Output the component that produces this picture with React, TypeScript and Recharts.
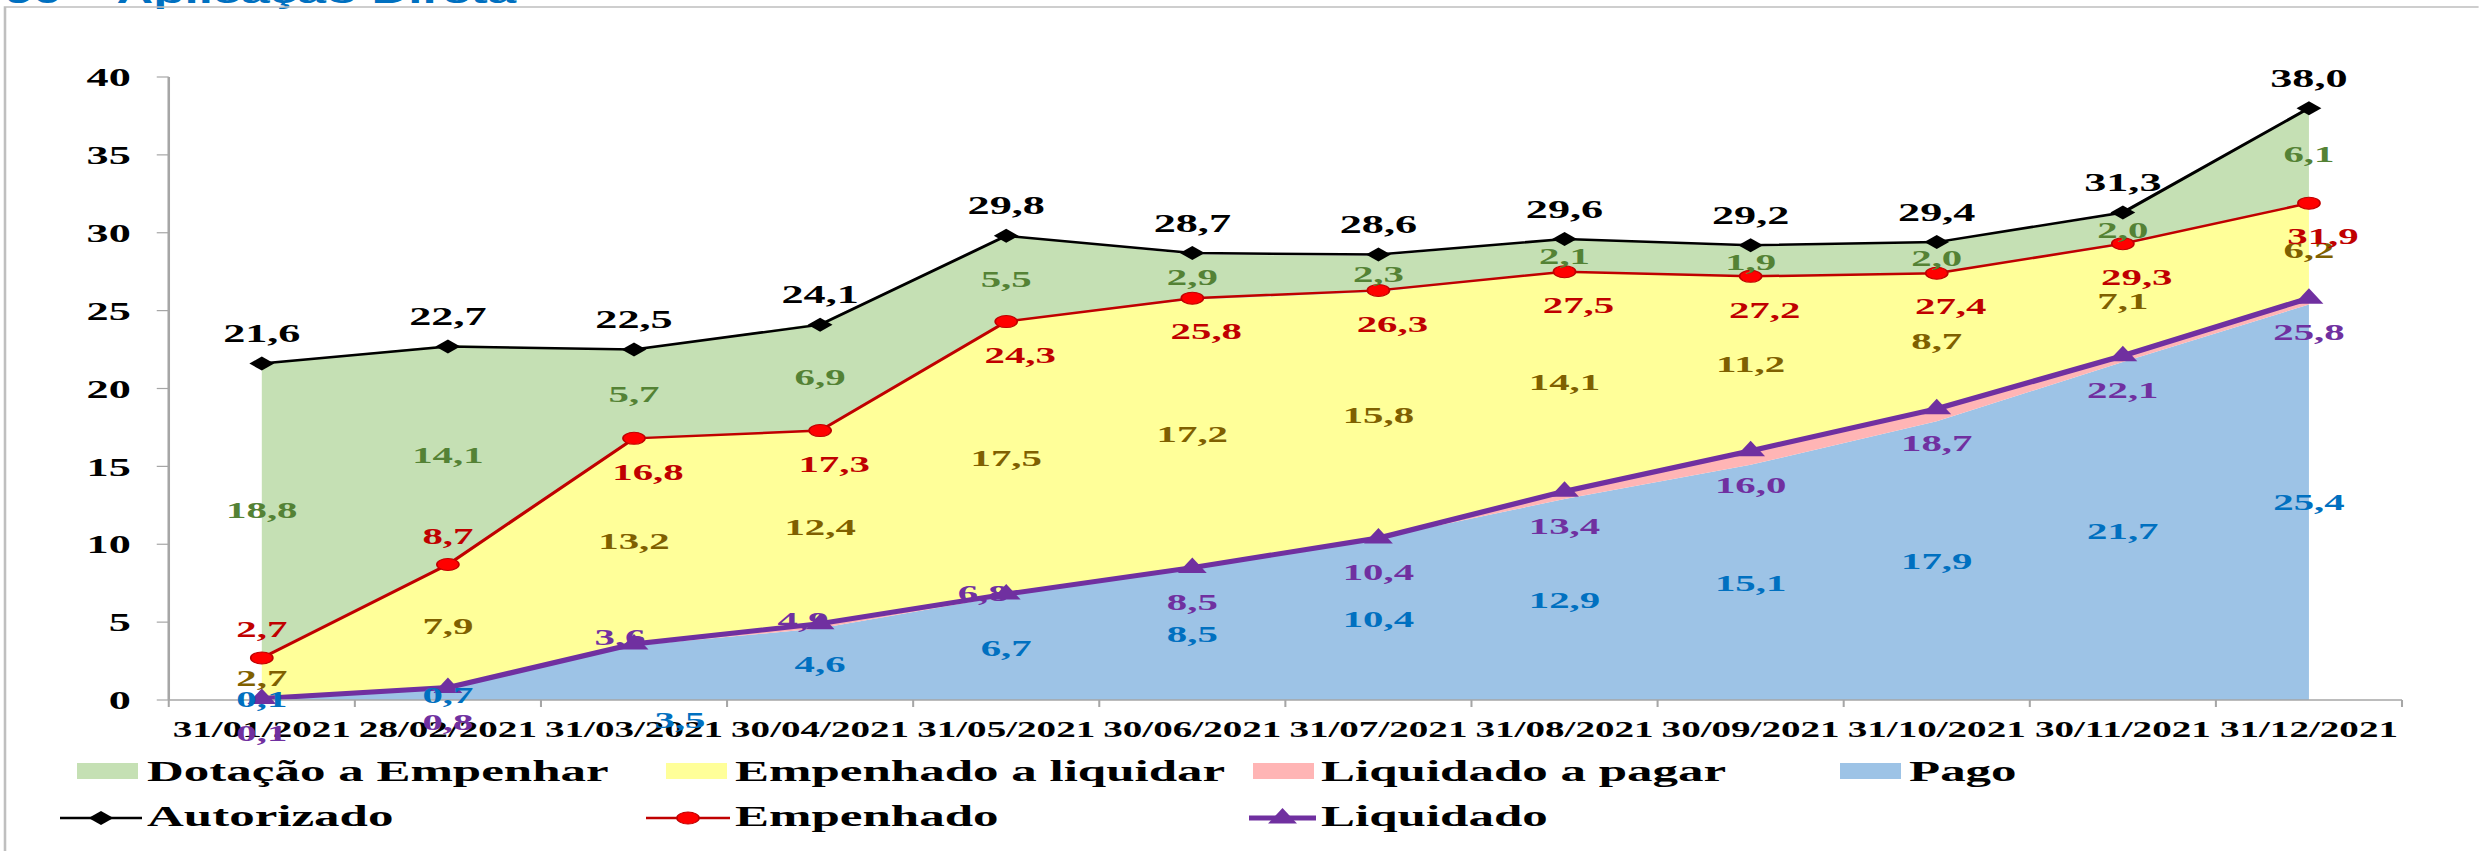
import React from 'react';
import { ComposedChart, Area, Line, XAxis, YAxis, LabelList } from 'recharts';

const categories = [
  '31/01/2021', '28/02/2021', '31/03/2021', '30/04/2021', '31/05/2021', '30/06/2021',
  '31/07/2021', '31/08/2021', '30/09/2021', '31/10/2021', '30/11/2021', '31/12/2021',
];
const autorizado = [21.6, 22.7, 22.5, 24.1, 29.8, 28.7, 28.6, 29.6, 29.2, 29.4, 31.3, 38.0];
const empenhado = [2.7, 8.7, 16.8, 17.3, 24.3, 25.8, 26.3, 27.5, 27.2, 27.4, 29.3, 31.9];
const liquidado = [0.1, 0.8, 3.6, 4.9, 6.8, 8.5, 10.4, 13.4, 16.0, 18.7, 22.1, 25.8];
const pago = [0.1, 0.7, 3.5, 4.6, 6.7, 8.5, 10.4, 12.9, 15.1, 17.9, 21.7, 25.4];
const liquidadoAPagar = [0.0, 0.1, 0.1, 0.3, 0.1, 0.0, 0.0, 0.5, 0.9, 0.8, 0.4, 0.4];
const empenhadoALiquidar = [2.7, 7.9, 13.2, 12.4, 17.5, 17.2, 15.8, 14.1, 11.2, 8.7, 7.1, 6.2];
const dotacaoAEmpenhar = [18.8, 14.1, 5.7, 6.9, 5.5, 2.9, 2.3, 2.1, 1.9, 2.0, 2.0, 6.1];
const yTicks = [0, 5, 10, 15, 20, 25, 30, 35, 40];

const data = categories.map((date, i) => ({
  date,
  pago: pago[i],
  liquidadoAPagar: liquidadoAPagar[i],
  empenhadoALiquidar: empenhadoALiquidar[i],
  dotacaoAEmpenhar: dotacaoAEmpenhar[i],
  autorizado: autorizado[i],
  empenhado: empenhado[i],
  liquidado: liquidado[i],
}));

// the original picture is stretched sideways, so draw narrow and scale on x
const S = 1.7;
const W = Math.floor(2480 / S);
const H = 851;
const TOP = 77;
const BOTTOM = 700;
const px = (pagePx: number) => pagePx / S; // page x distance -> drawing units
const PLOT_LEFT = px(168.75);
const PLOT_RIGHT = px(2402);
const HALF = (PLOT_RIGHT - PLOT_LEFT) / 24;
const K = (BOTTOM - TOP) / 40;

const SERIF = '"Liberation Serif", "Times New Roman", serif';
const AXIS = '#A6A6A6';

const C = {
  green: '#C5E0B4',
  yellow: '#FFFF99',
  pink: '#FFB5B5',
  blue: '#9DC3E6',
  greenText: '#548235',
  yellowText: '#7F6000',
  red: '#C00000',
  redDot: '#FF0000',
  purple: '#7030A0',
  blueText: '#0070C0',
};

const fmt = (v: number) => v.toFixed(1).replace('.', ',');

const pos = (p: any) => ({
  x: (p.x ?? p.viewBox?.x) as number,
  y: (p.y ?? p.viewBox?.y) as number,
});

const Txt = ({ x, y, color, size = 24, children }: any) => (
  <text
    x={x}
    y={y}
    fill={color}
    fontFamily={SERIF}
    fontWeight="bold"
    fontSize={size}
    textAnchor="middle"
    dominantBaseline="central"
  >
    {children}
  </text>
);

// label at the middle of a stacked segment
const midLabel = (color: string, special?: Record<number, [number, number]>) => (p: any) => {
  const { x, y } = pos(p);
  const v = Number(p.value);
  if (x == null || y == null || isNaN(v)) return null;
  const s = special && special[p.index];
  if (s) return <Txt x={x + s[0]} y={s[1]} color={color}>{fmt(v)}</Txt>;
  return <Txt x={x} y={y + (v * K) / 2} color={color}>{fmt(v)}</Txt>;
};

const autorizadoLabel = (p: any) => {
  const { x, y } = pos(p);
  return <Txt x={x} y={y - 30} color="#000" size={26}>{fmt(Number(p.value))}</Txt>;
};

const empenhadoLabel = (p: any) => {
  const { x, y } = pos(p);
  if (p.index < 2) return <Txt x={x} y={y - 29} color={C.red}>{fmt(Number(p.value))}</Txt>;
  return <Txt x={x + px(14)} y={y + 33} color={C.red}>{fmt(Number(p.value))}</Txt>;
};

const liqShift: Record<number, [number, number]> = { 2: [px(-14), -7], 3: [px(-17), -4], 4: [px(-23), -1] };
const liquidadoLabel = (p: any) => {
  const { x, y } = pos(p);
  const s = liqShift[p.index] || [0, 34];
  return <Txt x={x + s[0]} y={y + s[1]} color={C.purple}>{fmt(Number(p.value))}</Txt>;
};

const diamond = (cx: number, cy: number) =>
  `${cx},${cy - 7} ${cx + 7.3},${cy} ${cx},${cy + 7} ${cx - 7.3},${cy}`;
const triangle = (cx: number, cy: number) =>
  `${cx},${cy - 10} ${cx + 8.5},${cy + 5.5} ${cx - 8.5},${cy + 5.5}`;

const DiamondDot = (p: any) => <polygon key={`a${p.index}`} points={diamond(p.cx, p.cy)} fill="#000" />;
const CircleDot = (p: any) => (
  <ellipse key={`e${p.index}`} cx={p.cx} cy={p.cy} rx={6.5} ry={6} fill={C.redDot} stroke={C.red} strokeWidth={1} />
);
const TriangleDot = (p: any) => <polygon key={`l${p.index}`} points={triangle(p.cx, p.cy)} fill={C.purple} />;

const XTick = (p: any) => {
  const { x, y, index } = p;
  return (
    <g>
      <line x1={x - HALF} x2={x - HALF} y1={y} y2={y + 7} stroke={AXIS} strokeWidth={1.2} />
      {index === categories.length - 1 && (
        <line x1={x + HALF} x2={x + HALF} y1={y} y2={y + 7} stroke={AXIS} strokeWidth={1.2} />
      )}
      <text x={x} y={y + 37} textAnchor="middle" fontFamily={SERIF} fontWeight="bold" fontSize={23} fill="#000">
        {p.payload.value}
      </text>
    </g>
  );
};

// legend columns, in page pixels: text start, swatch left, line-icon left
const legendText = [147, 735, 1321, 1909];
const legendSwatch = [77, 666, 1253, 1840];
const legendLine = [60, 646, 1249];
const swatches = [
  { name: 'Dotação a Empenhar', color: C.green },
  { name: 'Empenhado a liquidar', color: C.yellow },
  { name: 'Liquidado a pagar', color: C.pink },
  { name: 'Pago', color: C.blue },
];
const lineItems = [
  { name: 'Autorizado', color: '#000', width: 2.5, mark: 'diamond' },
  { name: 'Empenhado', color: C.red, width: 2.5, mark: 'circle' },
  { name: 'Liquidado', color: C.purple, width: 5, mark: 'triangle' },
];

const LegendBox = () => (
  <svg width={W} height={H} style={{ position: 'absolute', left: 0, top: 0, pointerEvents: 'none' }}>
    {swatches.map((s, i) => (
      <g key={s.name}>
        <rect x={px(legendSwatch[i])} y={763} width={px(61)} height={16} fill={s.color} />
        <text x={px(legendText[i])} y={781.5} fontFamily={SERIF} fontWeight="bold" fontSize={30} fill="#000">
          {s.name}
        </text>
      </g>
    ))}
    {lineItems.map((l, i) => {
      const x0 = px(legendLine[i]);
      const x1 = px(legendText[i] - 5);
      const mx = (x0 + x1) / 2;
      return (
        <g key={l.name}>
          <line x1={x0} x2={x1} y1={818} y2={818} stroke={l.color} strokeWidth={l.width} />
          {l.mark === 'diamond' && <polygon points={diamond(mx, 818)} fill="#000" />}
          {l.mark === 'circle' && <ellipse cx={mx} cy={818} rx={6.5} ry={6} fill={C.redDot} stroke={C.red} />}
          {l.mark === 'triangle' && <polygon points={triangle(mx, 818)} fill={C.purple} />}
          <text x={px(legendText[i])} y={826.5} fontFamily={SERIF} fontWeight="bold" fontSize={30} fill="#000">
            {l.name}
          </text>
        </g>
      );
    })}
  </svg>
);

export default function App() {
  return (
    <div
      style={{
        position: 'absolute',
        left: 0,
        top: 0,
        width: W,
        height: H,
        overflow: 'hidden',
        background: '#fff',
        transform: `scaleX(${S})`,
        transformOrigin: '0 0',
      }}
    >
      <svg width={W} height={H} style={{ position: 'absolute', left: 0, top: 0 }}>
        <text x={px(5)} y={3} fontFamily='"Liberation Sans", Arial, sans-serif' fontWeight="bold" fontSize={30} fill="#0070C0">
          90 – Aplicação Direta
        </text>
        <rect x={px(5)} y={7} width={W + 10} height={H} fill="none" stroke="#BFBFBF" strokeWidth={1.5} />
      </svg>
      <div style={{ position: 'absolute', left: 0, top: 0 }}>
        <ComposedChart
          width={W}
          height={H}
          data={data}
          margin={{ top: TOP, right: W - PLOT_RIGHT, bottom: H - BOTTOM - 40, left: 0 }}
        >
          <XAxis
            dataKey="date"
            interval={0}
            height={40}
            padding={{ left: HALF, right: HALF }}
            tickLine={false}
            tickSize={0}
            tickMargin={0}
            axisLine={{ stroke: AXIS, strokeWidth: 1.5 }}
            tick={XTick}
          />
          <YAxis
            domain={[0, 40]}
            ticks={yTicks}
            interval={0}
            width={PLOT_LEFT}
            tickSize={px(12)}
            tickMargin={px(26)}
            axisLine={{ stroke: AXIS, strokeWidth: 1.5 }}
            tickLine={{ stroke: AXIS, strokeWidth: 1.2 }}
            tick={{ fontFamily: SERIF, fontWeight: 'bold', fontSize: 26, fill: '#000' }}
          />
          <Area type="linear" dataKey="pago" stackId="s" stroke="none" fill={C.blue} fillOpacity={1} isAnimationActive={false} activeDot={false}>
            <LabelList dataKey="pago" content={midLabel(C.blueText, { 2: [px(46), BOTTOM + 20] })} />
          </Area>
          <Area type="linear" dataKey="liquidadoAPagar" stackId="s" stroke="none" fill={C.pink} fillOpacity={1} isAnimationActive={false} activeDot={false} />
          <Area type="linear" dataKey="empenhadoALiquidar" stackId="s" stroke="none" fill={C.yellow} fillOpacity={1} isAnimationActive={false} activeDot={false}>
            <LabelList dataKey="empenhadoALiquidar" content={midLabel(C.yellowText)} />
          </Area>
          <Area type="linear" dataKey="dotacaoAEmpenhar" stackId="s" stroke="none" fill={C.green} fillOpacity={1} isAnimationActive={false} activeDot={false}>
            <LabelList dataKey="dotacaoAEmpenhar" content={midLabel(C.greenText)} />
          </Area>
          <Line type="linear" dataKey="autorizado" stroke="#000" strokeWidth={2.5} dot={DiamondDot} activeDot={false} isAnimationActive={false}>
            <LabelList dataKey="autorizado" content={autorizadoLabel} />
          </Line>
          <Line type="linear" dataKey="empenhado" stroke={C.red} strokeWidth={2.5} dot={CircleDot} activeDot={false} isAnimationActive={false}>
            <LabelList dataKey="empenhado" content={empenhadoLabel} />
          </Line>
          <Line type="linear" dataKey="liquidado" stroke={C.purple} strokeWidth={5} dot={TriangleDot} activeDot={false} isAnimationActive={false}>
            <LabelList dataKey="liquidado" content={liquidadoLabel} />
          </Line>
        </ComposedChart>
      </div>
      <LegendBox />
    </div>
  );
}
